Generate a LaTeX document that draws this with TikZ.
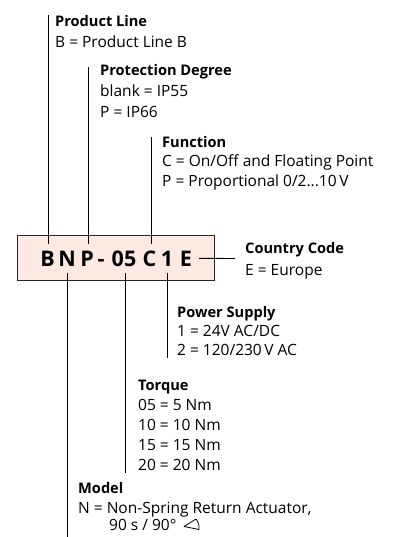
\documentclass[tikz,border=0pt]{standalone}
\usepackage{fontspec}
\setmainfont{Open Sans}
\definecolor{boxfill}{HTML}{FCE9E1}
\begin{document}
\begin{tikzpicture}[x=1pt,y=-1pt,
  txt/.style={anchor=base west,inner sep=0pt,font=\fontsize{15.5}{17}\selectfont},
  hd/.style={txt,font=\fontsize{14.6}{17}\selectfont\bfseries},
  letter/.style={anchor=base,inner xsep=0pt,inner ysep=6.5pt,font=\fontsize{21.5}{23}\selectfont\bfseries},
  conn/.style={draw=black,line width=0.9pt}]
\useasboundingbox (0,0) rectangle (398,537);
% code box
\node[draw=black!85,line width=1.1pt,fill=boxfill,minimum width=197pt,minimum height=45pt,inner sep=0pt,anchor=north west] (box) at (17,235) {};
\node[letter] (lB) at (47.5,266) {B};
\node[letter] (lN) at (67,266) {N};
\node[letter] (lP) at (87,266) {P};
\node[letter] (lD) at (101,266) {-};
\node[letter] (lT) at (124,266) {05};
\node[letter] (lC) at (149.5,266) {C};
\node[letter] (l1) at (167,266) {1};
\node[letter,inner xsep=7pt] (lE) at (186,266) {E};
% end coordinates
\coordinate (plTop) at (48.5,15);
\coordinate (pdTop) at (88,67);
\coordinate (fnTop) at (151.5,137);
\coordinate (ccEnd) at (235,258.5);
\coordinate (psEnd) at (167.5,358);
\coordinate (tqEnd) at (125.5,473);
\coordinate (mdEnd) at (67.5,537);
% connectors
\draw[conn] (plTop) -- (plTop |- lB.north);
\draw[conn] (pdTop) -- (pdTop |- lP.north);
\draw[conn] (fnTop) -- (fnTop |- lC.north);
\draw[conn] (lE.east) -- (ccEnd);
\draw[conn] (psEnd |- l1.south) -- (psEnd);
\draw[conn] (tqEnd |- lT.south) -- (tqEnd);
\draw[conn] (mdEnd |- lN.south) -- (mdEnd);
% texts
\node[hd] (plH) at (55,27) {Product Line};
\node[txt] (pl1) at (55,48) {B = Product Line B};
\node[hd] (pdH) at (100,76) {Protection Degree};
\node[txt] (pd1) at (100,97) {blank = IP55};
\node[txt] (pd2) at (100,118) {P = IP66};
\node[hd] (fnH) at (162,148) {Function};
\node[txt] (fn1) at (162,167) {C = On/Off and Floating Point};
\node[txt] (fn2) at (162,186) {P = Proportional 0/2...10\,V};
\node[hd] (ccH) at (245,253) {Country Code};
\node[txt] (cc1) at (245,275) {E = Europe};
\node[hd] (psH) at (177,317) {Power Supply};
\node[txt] (ps1) at (177,336) {1 = 24V AC/DC};
\node[txt] (ps2) at (177,355) {2 = 120/230\,V AC};
\node[hd] (tqH) at (138,390) {Torque};
\node[txt] (tq1) at (138,410) {05 = 5 Nm};
\node[txt] (tq2) at (138,430) {10 = 10 Nm};
\node[txt] (tq3) at (138,450) {15 = 15 Nm};
\node[txt] (tq4) at (138,470) {20 = 20 Nm};
\node[hd] (mdH) at (78,493) {Model};
\node[txt] (md1) at (78,513) {N = Non-Spring Return Actuator,};
\node[txt] (md2) at (109,530) {90 s / 90°};
% angle symbol
\draw[line width=0.8pt,line join=round] (196,519) -- (184,526.5) -- (199,529.5)
  (196,519) .. controls (198.5,522) and (199.5,526) .. (199,529.5);
\end{tikzpicture}
\end{document}
